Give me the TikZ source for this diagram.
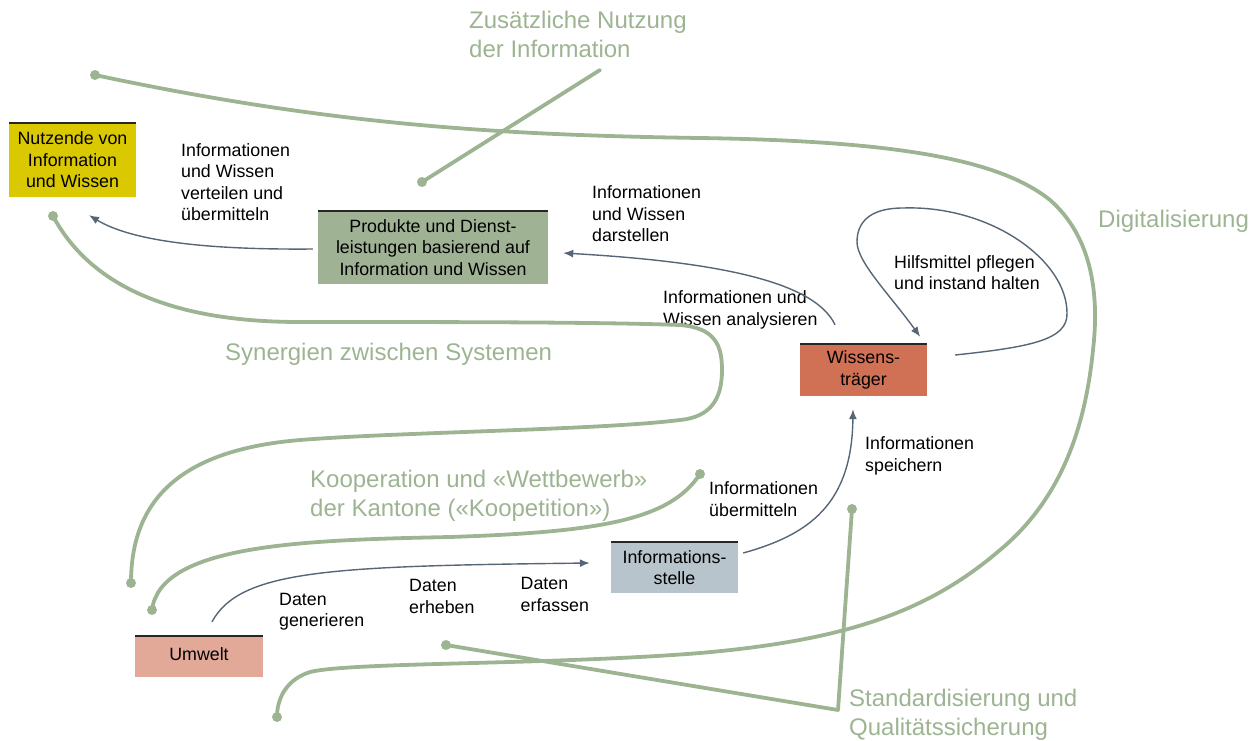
\documentclass[tikz,border=0pt]{standalone}
\usepackage{fontspec}
\setmainfont{Liberation Sans}
\usetikzlibrary{arrows.meta,calc}

\definecolor{themegreen}{RGB}{157,180,146}
\definecolor{flowgray}{RGB}{86,102,118}
\definecolor{yellowbox}{RGB}{218,200,0}
\definecolor{prodgreen}{RGB}{160,178,148}
\definecolor{wissred}{RGB}{208,112,84}
\definecolor{infogray}{RGB}{184,196,204}
\definecolor{umweltpink}{RGB}{226,168,152}

\newcommand\notefont{\fontsize{17.8}{21.5}\selectfont}
\newcommand\themefont{\fontsize{24}{29}\selectfont}

\begin{document}
\begin{tikzpicture}[x=1pt,y=-1pt,
  box/.style={draw=none, inner sep=0pt, align=center, font=\notefont, text=black},
  topline/.style={draw=black!85, line width=2pt},
  note/.style={anchor=north west, inner sep=0pt, align=left, font=\notefont, text=black},
  theme/.style={anchor=north west, inner sep=0pt, align=left, font=\themefont, text=themegreen},
  flow/.style={draw=flowgray, line width=1.4pt, -{Latex[length=10pt,width=8pt]}},
  thread/.style={draw=themegreen, line width=3.8pt, line cap=round, line join=round},
  dot/.style={fill=themegreen}
]
\useasboundingbox (0,0) rectangle (1259,740);

% actors and products
\node[box, fill=yellowbox, minimum width=127pt, minimum height=74pt] (nutz) at (72.5,160) {Nutzende von\\Information\\und Wissen};
\node[box, fill=prodgreen, minimum width=230pt, minimum height=72pt] (prod) at (433,247.5) {Produkte und Dienst-\\leistungen basierend auf\\Information und Wissen};
\node[box, fill=wissred, minimum width=127pt, minimum height=52pt] (wiss) at (863.5,370) {Wissens-\\träger};
\node[box, fill=infogray, minimum width=127pt, minimum height=51pt] (info) at (674.5,567.5) {Informations-\\stelle};
\node[box, fill=umweltpink, minimum width=128pt, minimum height=41pt] (umw) at (199,656.5) {\raisebox{5pt}{Umwelt}};
\foreach \n in {nutz,prod,wiss,info,umw} \draw[topline] (\n.north west) -- (\n.north east);

% activity labels
\node[note] (lverteilen) at (181,143) {Informationen\\und Wissen\\verteilen und\\übermitteln};
\node[note] (ldarstellen) at (592,185.5) {Informationen\\und Wissen\\darstellen};
\node[note] (lpflegen) at (894,255) {Hilfsmittel pflegen\\und instand halten};
\node[note] (lanalysieren) at (663,290.5) {Informationen und\\Wissen analysieren};
\node[note] (lspeichern) at (865,436.5) {Informationen\\speichern};
\node[note] (luebermitteln) at (709,481.5) {Informationen\\übermitteln};
\node[note] (lgenerieren) at (279,593) {Daten\\generieren};
\node[note] (lerheben) at (409,579.5) {Daten\\erheben};
\node[note] (lerfassen) at (520.5,577.5) {Daten\\erfassen};

% flows of data, information and knowledge
\draw[flow] ($(prod.west)+(-5,1.5)$) .. controls (200,250) and (130,240) .. ($(nutz.south)+(16.5,18)$);
\draw[flow] ($(wiss.north)+(-28.5,-19)$) .. controls (815,282) and (720,262) .. ($(prod.east)+(15,5.5)$);
\draw[flow] ($(wiss.east)+(28,-15)$) .. controls (1030,347) and (1068,340) .. (1067,313)
   .. controls (1067,260) and (990,205) .. (903,208)
   .. controls (870,208) and (857,222) .. (857,242)
   .. controls (857,262) and (890,295) .. ($(wiss.north east)+(-7,-7)$);
\draw[flow] ($(umw.north)+(13,-14)$) .. controls (240,570) and (330,566) .. ($(info.west)+(-21,-4.5)$);
\draw[flow] ($(info.east)+(5,-14.5)$) .. controls (808,535) and (852,505) .. ($(wiss.south)+(-10.5,13)$);

% cross-cutting themes
\node[theme] (tnutzung) at (469,11) {Zusätzliche Nutzung\\der Information};
\node[theme] (tdigital) at (1098,210) {Digitalisierung};
\node[theme] (tsynergie) at (225,343) {Synergien zwischen Systemen};
\node[theme] (tkoop) at (310,470) {Kooperation und «Wettbewerb»\\der Kantone («Koopetition»)};
\node[theme] (tstandard) at (849,689) {Standardisierung und\\Qualitätssicherung};

\coordinate (nA) at (422,182);
\coordinate (nB) at (600,70);
\coordinate (dA) at (95,75);
\coordinate (dB) at (277,717);
\coordinate (sA) at (53,216);
\coordinate (sB) at (131,583);
\coordinate (kA) at (700,474);
\coordinate (kB) at (152,610);
\coordinate (qA) at (446,645);
\coordinate (qJ) at (838,710);
\coordinate (qB) at (852,509);

\draw[thread] (nA) -- (nB);
\draw[thread] (dA) .. controls (330,125) and (500,135) .. (700,138)
   .. controls (900,141) and (1000,160) .. (1050,200)
   .. controls (1090,235) and (1100,290) .. (1093,350)
   .. controls (1085,430) and (1060,500) .. (1000,550)
   .. controls (930,610) and (850,640) .. (700,653)
   .. controls (550,665) and (350,662) .. (310,672)
   .. controls (285,680) and (277,700) .. (dB);
\draw[thread] (sA) .. controls (90,285) and (170,322) .. (300,322)
   .. controls (450,322) and (600,322) .. (680,325)
   .. controls (715,328) and (722,345) .. (722,370)
   .. controls (722,400) and (710,417) .. (680,420)
   .. controls (600,430) and (400,432) .. (300,440)
   .. controls (180,450) and (131,500) .. (sB);
\draw[thread] (kA) .. controls (670,520) and (600,532) .. (450,537)
   .. controls (300,540) and (160,545) .. (kB);
\draw[thread] (qA) -- (qJ) -- (qB);
\foreach \c in {nA,dA,dB,sA,sB,kA,kB,qA,qB} \fill[dot] (\c) circle[radius=5];
\end{tikzpicture}
\end{document}
